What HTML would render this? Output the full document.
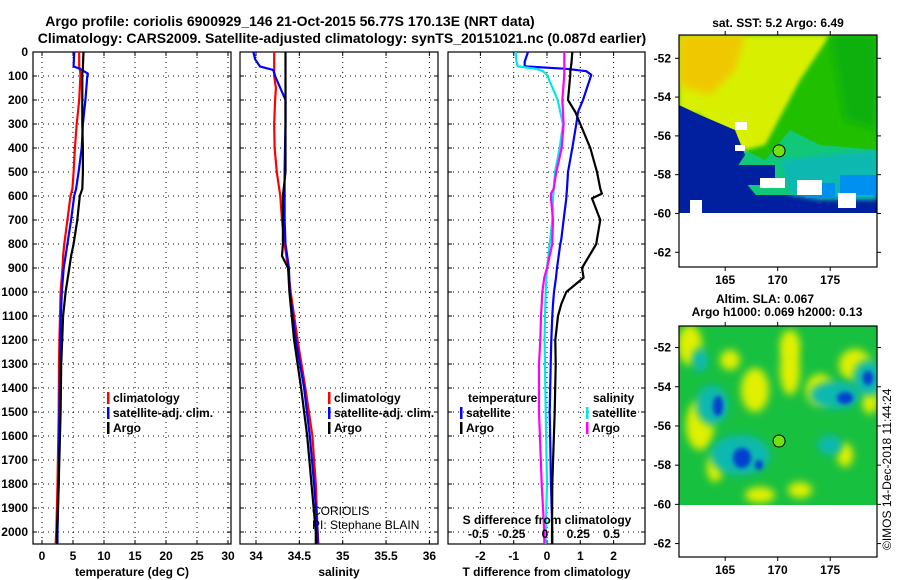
<!DOCTYPE html>
<html><head><meta charset="utf-8"><style>
html,body{margin:0;padding:0;background:#fff}
svg{display:block;font-family:"Liberation Sans",Arial,sans-serif}
</style></head><body>
<svg id="chart" width="900" height="580" viewBox="0 0 900 580" xmlns="http://www.w3.org/2000/svg">
<defs>
<filter id="blur4" x="-50%" y="-50%" width="200%" height="200%"><feGaussianBlur stdDeviation="4"/></filter>
<filter id="blur2" x="-50%" y="-50%" width="200%" height="200%"><feGaussianBlur stdDeviation="2"/></filter>
<clipPath id="clipT"><rect x="33" y="52" width="198" height="492"/></clipPath>
<clipPath id="clipS"><rect x="240" y="52" width="198" height="492"/></clipPath>
<clipPath id="clipD"><rect x="448" y="52" width="197" height="492"/></clipPath>
<clipPath id="clipM1"><rect x="679" y="35" width="198" height="178"/></clipPath>
<clipPath id="clipM2"><rect x="679" y="326" width="198" height="179"/></clipPath>
</defs>
<text x="290" y="26" text-anchor="middle" font-size="14" font-weight="bold">Argo profile: coriolis 6900929_146 21-Oct-2015 56.77S 170.13E (NRT data)</text>
<text x="342" y="43" text-anchor="middle" font-size="14" font-weight="bold">Climatology: CARS2009. Satellite-adjusted climatology: synTS_20151021.nc (0.087d earlier)</text>
<g id="g"></g>
</svg>
<script>
// ---- data ----
const depthT = [0,60,70,90,100,200,300,400,500,570,600,700,800,850,900,1000,1100,1200,1300,1500,1800,2000,2050];
const tempClim = [6.0,6.0,6.1,6.2,6.2,6.0,5.6,5.3,5.1,4.9,4.6,4.1,3.6,3.4,3.3,3.0,2.9,2.8,2.75,2.7,2.5,2.3,2.2];
const tempSat  = [5.2,5.1,6.1,7.4,7.3,7.0,6.6,6.4,5.9,5.5,5.2,4.7,4.1,3.8,3.5,3.2,3.05,2.95,2.9,2.8,2.7,2.5,2.5];
const tempArgo = [6.7,6.6,6.6,6.5,6.5,6.5,6.5,6.6,6.6,6.5,6.1,5.7,5.1,4.7,4.4,3.8,3.4,3.25,3.1,3.0,2.7,2.4,2.4];
const depthS = [0,30,60,75,100,150,200,300,400,500,600,700,800,850,900,1000,1200,1400,1600,1800,2000,2050];
const salClim = [34.21,34.21,34.21,34.21,34.21,34.23,34.22,34.21,34.215,34.24,34.28,34.30,34.33,34.35,34.37,34.40,34.48,34.57,34.65,34.69,34.71,34.72];
const salSat  = [33.97,33.99,34.045,34.2,34.22,34.28,34.34,34.34,34.335,34.33,34.33,34.33,34.34,34.36,34.38,34.39,34.46,34.555,34.62,34.67,34.71,34.71];
const salArgo = [34.34,34.34,34.34,34.34,34.34,34.34,34.34,34.34,34.34,34.34,34.31,34.31,34.31,34.30,34.37,34.385,34.44,34.52,34.59,34.64,34.69,34.69];
const depthD = [0,40,60,70,80,95,200,250,300,400,500,570,590,610,700,780,800,900,940,1000,1050,1100,1200,1300,1500,1800,2000,2050];
const dTsat  = [-0.57,-0.67,-0.67,0.58,1.18,1.33,1.08,0.93,0.88,0.76,0.63,0.6,0.59,0.58,0.5,0.43,0.4,0.3,0.27,0.21,0.18,0.16,0.13,0.11,0.08,0.12,0.16,0.16];
const dTargo = [0.76,0.74,0.72,0.71,0.7,0.7,0.63,0.85,1.0,1.3,1.5,1.6,1.65,1.35,1.6,1.5,1.48,1.05,1.1,0.58,0.43,0.33,0.25,0.26,0.23,0.16,0.15,0.15];
const dSsat  = [-0.235,-0.23,-0.22,-0.08,-0.03,0,0.08,0.1,0.12,0.095,0.06,0.05,0.048,0.045,0.04,0.025,0.02,0,-0.005,-0.01,-0.012,-0.015,-0.018,-0.015,-0.01,0,-0.01,-0.01];
const dSargo = [0.13,0.13,0.13,0.13,0.13,0.13,0.115,0.12,0.125,0.11,0.07,0.05,0.03,0.03,0.045,0.04,0.04,0.0,-0.02,-0.035,-0.04,-0.045,-0.05,-0.06,-0.06,-0.04,-0.02,-0.02];
const depthTicks = [0,100,200,300,400,500,600,700,800,900,1000,1100,1200,1300,1400,1500,1600,1700,1800,1900,2000];
const tTicks = [0,5,10,15,20,25,30];
const sTicks = [34,34.5,35,35.5,36];
const dTTicks = [-2,-1,0,1,2];
const dSTicks = [-0.5,-0.25,0,0.25,0.5];
const latTicks = [-52,-54,-56,-58,-60,-62];
const lonTicks = [165,170,175];

const NS='http://www.w3.org/2000/svg';
const G=document.getElementById('g');
function mk(tag,attrs,parent){const e=document.createElementNS(NS,tag);for(const k in attrs)e.setAttribute(k,attrs[k]);(parent||G).appendChild(e);return e;}
function txt(x,y,s,attrs){const e=mk('text',Object.assign({x:x,y:y},attrs||{}));e.textContent=s;return e;}

const Y0=52, Y1=544;
const yD = d => Y0 + d*0.24;
function panel(name,x0,x1,xf,xticks,fmt,xtitle,clip){
  const g=mk('g',{});
  
  
  // grid
  xticks.forEach(v=>{const l=mk('line',{x1:xf(v),x2:xf(v),y1:Y0,y2:Y1,stroke:'#000','stroke-width':1,'stroke-dasharray':'1,4'},g);
    
    
    mk('line',{x1:xf(v),x2:xf(v),y1:Y1,y2:Y1-4,stroke:'#000'},g);
    mk('line',{x1:xf(v),x2:xf(v),y1:Y0,y2:Y0+4,stroke:'#000'},g);
    const t=txt(xf(v),560,fmt(v),{'text-anchor':'middle','font-size':12,'font-weight':'bold'});
    
    
  });
  depthTicks.forEach(d=>{const l=mk('line',{x1:x0,x2:x1,y1:yD(d),y2:yD(d),stroke:'#000','stroke-width':1,'stroke-dasharray':'1,4'},g);
    
    
    mk('line',{x1:x0,x2:x0+4,y1:yD(d),y2:yD(d),stroke:'#000'},g);
    mk('line',{x1:x1,x2:x1-4,y1:yD(d),y2:yD(d),stroke:'#000'},g);
  });
  const r=mk('rect',{x:x0,y:Y0,width:x1-x0,height:Y1-Y0,fill:'none',stroke:'#000','stroke-width':1.2},g);
  
  
  if(xtitle){const t=txt((x0+x1)/2,576,xtitle,{'text-anchor':'middle','font-size':12,'font-weight':'bold'});
    
    }
  return g;
}
function profile(name,depths,vals,xf,color,clip){
  const pts=depths.map((d,i)=>xf(vals[i]).toFixed(1)+','+yD(d).toFixed(1)).join(' ');
  const p=mk('polyline',{points:pts,fill:'none',stroke:color,'stroke-width':2.2,'clip-path':'url(#'+clip+')','stroke-linejoin':'round'});
  
  
}
function legend(items,x,y){
  items.forEach((it,i)=>{
    mk('rect',{x:x,y:y+i*15-10,width:2.5,height:12,fill:it[1]});
    const t=txt(x+6,y+i*15,it[0],{'font-size':12,'font-weight':'bold'});
    
    
  });
}

// Temperature panel
const xT=v=>42+v*6.2;
panel('temperature-panel',33,231,xT,tTicks,v=>String(v),'temperature (deg C)');
depthTicks.forEach(d=>{const t=txt(28,yD(d)+4,String(d),{'text-anchor':'end','font-size':12,'font-weight':'bold'});
  
  });
profile('temp-climatology-line',depthT,tempClim,xT,'#ff0000','clipT');
profile('temp-satellite-line',depthT,tempSat,xT,'#0000ff','clipT');
profile('temp-argo-line',depthT,tempArgo,xT,'#000000','clipT');
legend([['climatology','#ff0000'],['satellite-adj. clim.','#0000ff'],['Argo','#000']],107,402);

// Salinity panel
const xS=v=>256+(v-34)*86.7;
panel('salinity-panel',240,438,xS,sTicks,v=>String(v),'salinity');
profile('sal-climatology-line',depthS,salClim,xS,'#ff0000','clipS');
profile('sal-satellite-line',depthS,salSat,xS,'#0000ff','clipS');
profile('sal-argo-line',depthS,salArgo,xS,'#000000','clipS');
legend([['climatology','#ff0000'],['satellite-adj. clim.','#0000ff'],['Argo','#000']],328,402);
let t1=txt(312,515,'CORIOLIS',{'font-size':12});


let t2=txt(312,529,'PI: Stephane BLAIN',{'font-size':12});



// Difference panel
const xDT=v=>547+v*33.3;
const xDS=v=>547+v*4*33.3;
panel('difference-panel',448,645,xDT,dTTicks,v=>String(v),'T difference from climatology');
profile('dT-satellite-line',depthD,dTsat,xDT,'#0000ff','clipD');
profile('dT-argo-line',depthD,dTargo,xDT,'#000000','clipD');
profile('dS-satellite-line',depthD,dSsat,xDS,'#00e8e8','clipD');
profile('dS-argo-line',depthD,dSargo,xDS,'#ff00ff','clipD');
let t3=txt(547,524,'S difference from climatology',{'text-anchor':'middle','font-size':12,'font-weight':'bold'});


dSTicks.forEach(v=>{const t=txt(xDS(v)-2,538,String(v).replace('0.','.').replace('-.','-0.').replace(/^\.(\d)$/,'0.$1'),{'text-anchor':'middle','font-size':12,'font-weight':'bold'});
  t.textContent=String(v);
  
  });
let t4=txt(468,402,'temperature',{'font-size':12,'font-weight':'bold'});


legend([['satellite','#0000ff'],['Argo','#000']],460,417);
let t5=txt(593,402,'salinity',{'font-size':12,'font-weight':'bold'});


legend([['satellite','#00e8e8'],['Argo','#ff00ff']],586,417);

// ---- Maps ----
function mapFrame(name,top,bottom,latTop,pxPerLat,title,clip){
  const g=mk('g',{});
  
  
  const yL=l=>top+(latTop-l)*pxPerLat;
  const xL=l=>679+(l-160.6)*10.5;
  return {g,yL,xL,top,bottom};
}
function mapAxes(m){
  const r=mk('rect',{x:679,y:m.top,width:198,height:m.bottom-m.top,fill:'none',stroke:'#000','stroke-width':1.2},m.g);
  
  
  latTicks.forEach(l=>{const y=m.yL(l);
    mk('line',{x1:679,x2:675,y1:y,y2:y,stroke:'#000'},m.g);
    mk('line',{x1:877,x2:881,y1:y,y2:y,stroke:'#000'},m.g);
    const t=txt(671,y+4,String(l),{'text-anchor':'end','font-size':12,'font-weight':'bold'},m.g);
    
    });
  lonTicks.forEach(l=>{const x=m.xL(l);
    mk('line',{x1:x,x2:x,y1:m.bottom,y2:m.bottom+4,stroke:'#000'},m.g);
    mk('line',{x1:x,x2:x,y1:m.top,y2:m.top-4,stroke:'#000'},m.g);
    const t=txt(x,m.bottom+17,String(l),{'text-anchor':'middle','font-size':12,'font-weight':'bold'},m.g);
    
    });
  const c=mk('circle',{cx:m.xL(170.13),cy:m.yL(-56.77),r:6,fill:'#70e010',stroke:'#000','stroke-width':1},m.g);
  
  
}
// Map 1: SST
const m1=mapFrame('sst-map',35,267,-50.8,19.4);
const s1=mk('g',{'clip-path':'url(#clipM1)'},m1.g);
mk('rect',{x:679,y:35,width:198,height:178,fill:'#10c878'},s1);
mk('polygon',{points:'679,35 877,35 877,150 820,145 790,130 765,160 745,150 679,115',fill:'#20c000'},s1);
mk('polygon',{points:'679,35 830,35 800,80 765,145 745,150 700,115 679,110',fill:'#d8f000',filter:'url(#blur2)'},s1);
mk('polygon',{points:'679,35 745,35 735,70 710,95 679,85',fill:'#f0c800',filter:'url(#blur4)'},s1);
mk('polygon',{points:'830,35 877,35 877,130 845,120',fill:'#10b010',filter:'url(#blur4)'},s1);
mk('polygon',{points:'679,105 700,115 735,130 745,155 735,170 760,200 790,213 679,213',fill:'#0020a0'},s1);
mk('polygon',{points:'679,195 877,195 877,213 679,213',fill:'#0020a0'},s1);
mk('polygon',{points:'780,160 877,150 877,200 820,200 790,195',fill:'#10b8b0',filter:'url(#blur2)'},s1);
mk('rect',{x:840,y:175,width:37,height:20,fill:'#0090f0'},s1);
mk('rect',{x:805,y:183,width:30,height:15,fill:'#0090f0'},s1);
mk('rect',{x:735,y:165,width:40,height:20,fill:'#0020a0'},s1);
mk('rect',{x:760,y:178,width:25,height:10,fill:'#ffffff'},s1);
mk('rect',{x:797,y:180,width:25,height:15,fill:'#ffffff'},s1);
mk('rect',{x:838,y:193,width:18,height:15,fill:'#ffffff'},s1);
mk('rect',{x:735,y:122,width:12,height:8,fill:'#ffffff'},s1);
mk('rect',{x:735,y:145,width:10,height:6,fill:'#ffffff'},s1);
mk('rect',{x:690,y:200,width:12,height:13,fill:'#ffffff'},s1);
mapAxes(m1);
let mt1=txt(778,27,'sat. SST: 5.2 Argo: 6.49',{'text-anchor':'middle','font-size':12,'font-weight':'bold'});


// Map 2: SLA
const m2=mapFrame('sla-map',326,557,-50.9,19.6);
const s2=mk('g',{'clip-path':'url(#clipM2)'},m2.g);
mk('rect',{x:679,y:326,width:198,height:179,fill:'#18c040'},s2);
[[690,345,12,20],[700,425,14,25],[755,390,14,22],[790,370,10,25],[820,390,14,16],[855,365,16,16],[715,468,8,14],[870,400,8,14],[730,360,10,10],[845,455,8,12],[760,495,15,8],[800,490,12,8],[790,345,10,15]].forEach(e=>{
  mk('ellipse',{cx:e[0],cy:e[1],rx:e[2],ry:e[3],fill:'#e0f000',filter:'url(#blur4)'},s2);
});
[[712,405,16,20],[740,455,30,20],[835,395,25,14],[868,378,15,18],[700,360,8,12],[830,445,12,10]].forEach(e=>{
  mk('ellipse',{cx:e[0],cy:e[1],rx:e[2],ry:e[3],fill:'#10b8b0',filter:'url(#blur4)'},s2);
});
[[718,406,5,10],[742,458,9,10],[845,398,8,6],[868,378,5,7],[759,465,4,5]].forEach(e=>{
  mk('ellipse',{cx:e[0],cy:e[1],rx:e[2],ry:e[3],fill:'#0040d0',filter:'url(#blur2)'},s2);
});
mapAxes(m2);
let mt2=txt(765,303,'Altim. SLA: 0.067',{'text-anchor':'middle','font-size':12,'font-weight':'bold'});


let mt3=txt(777,316,'Argo h1000: 0.069 h2000: 0.13',{'text-anchor':'middle','font-size':12,'font-weight':'bold'});


let cp=txt(0,0,'©IMOS 14-Dec-2018 11:44:24',{'font-size':12,transform:'translate(891,550) rotate(-90)'});


</script>
</body></html>
